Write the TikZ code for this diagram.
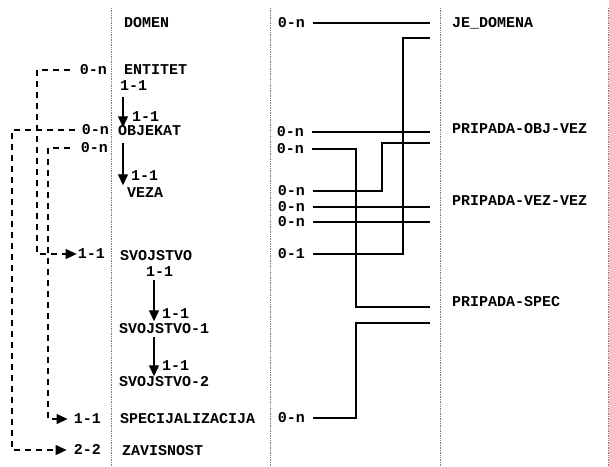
\documentclass[tikz,border=0pt]{standalone}
\usepackage{fontspec}
\setmonofont{Liberation Mono}
\usetikzlibrary{arrows.meta}
\begin{document}
\begin{tikzpicture}[x=1pt,y=-1pt,
  lbl/.style={anchor=west,inner sep=0pt,text height=9pt,text depth=0pt,
    font=\ttfamily\bfseries\fontsize{15}{15}\selectfont},
  lbr/.style={lbl,anchor=east},
  sep/.style={gray,densely dotted,line width=0.7pt},
  rel/.style={line width=1.2pt},
  dep/.style={line width=1.2pt,dash pattern=on 6pt off 5pt},
  tip/.style={-{Triangle[width=10pt,length=11pt]}}]
\useasboundingbox (0,0) rectangle (609,466);
\foreach \x in {111,270,440,608} \draw[sep] (\x,8) -- (\x,466);

\node[lbl] (domen) at (124,23) {DOMEN};
\node[lbl] (ent) at (124,70) {ENTITET};
\node[lbl] (ent11) at (120,86) {1-1};
\node[lbl] (obj11) at (132,117) {1-1};
\node[lbl] (obj) at (118,131) {OBJEKAT};
\node[lbl] (vez11) at (131,176) {1-1};
\node[lbl] (vez) at (127,193) {VEZA};
\node[lbl] (sv) at (120,256) {SVOJSTVO};
\node[lbl] (sv11) at (146,272) {1-1};
\node[lbl] (sva11) at (162,314) {1-1};
\node[lbl] (sva) at (119,329) {SVOJSTVO-1};
\node[lbl] (svb11) at (162,366) {1-1};
\node[lbl] (svb) at (119,382) {SVOJSTVO-2};
\node[lbl] (spec) at (120,419) {SPECIJALIZACIJA};
\node[lbl] (zav) at (122,451) {ZAVISNOST};

\node[lbr] (ent0n) at (107,70) {0-n};
\node[lbr] (obj0n) at (109,130) {0-n};
\node[lbr] (obj0nb) at (108,148) {0-n};
\node[lbr] (sv11l) at (105,254) {1-1};
\node[lbr] (spec11) at (101,419) {1-1};
\node[lbr] (zav22) at (101,450) {2-2};

\node[lbr] (je0n) at (305,23) {0-n};
\node[lbr] (pov0n) at (304,132) {0-n};
\node[lbr] (pov0nb) at (304,149) {0-n};
\node[lbr] (ppv0n) at (305,191) {0-n};
\node[lbr] (ppv0nb) at (305,207) {0-n};
\node[lbr] (ppv0nc) at (305,222) {0-n};
\node[lbr] (psv01) at (305,254) {0-1};
\node[lbr] (pse0n) at (305,418) {0-n};

\node[lbl] (je) at (452,23) {JE\_DOMENA};
\node[lbl] (pov) at (452,129) {PRIPADA-OBJ-VEZ};
\node[lbl] (ppv) at (452,201) {PRIPADA-VEZ-VEZ};
\node[lbl] (pse) at (452,302) {PRIPADA-SPEC};

\coordinate (k1) at (37,70);
\coordinate (k2) at (12,130);
\coordinate (k3) at (48,148);
\coordinate (m1) at (356,0);
\coordinate (m2) at (382,0);
\coordinate (m3) at (403,0);
\coordinate (e1) at (430,23);
\coordinate (e2) at (430,38);
\coordinate (e3) at (430,132);
\coordinate (e4) at (430,143);
\coordinate (e5) at (430,207);
\coordinate (e6) at (430,222);
\coordinate (e7) at (430,307);
\coordinate (e8) at (430,323);

\draw[rel,tip,shorten <=6pt,shorten >=-1pt] ([xshift=3pt]ent11.south west) -- ([xshift=3pt]ent11.south west |- obj.north);
\draw[rel,tip,shorten <=7pt,shorten >=3pt] ([xshift=5pt]obj.south west) -- ([xshift=5pt]obj.south west |- vez.north);
\draw[rel,tip,shorten <=3pt,shorten >=3pt] ([xshift=8pt]sv11.south west) -- ([xshift=8pt]sv11.south west |- sva.north);
\draw[rel,tip,shorten <=3pt,shorten >=1pt] ([xshift=8pt]sv11.south west |- sva.south) -- ([xshift=8pt]sv11.south west |- svb.north);

\draw[dep,tip,shorten <=10pt,shorten >=1pt] (ent0n.west) -- (k1) |- (sv11l.west);
\draw[dep,tip,shorten <=7pt,shorten >=7pt] (obj0n.west) -- (k2) |- (zav22.west);
\draw[dep,tip,shorten <=11pt,shorten >=6pt] (obj0nb.west) -- (k3) |- (spec11.west);

\draw[rel,shorten <=8pt] (je0n.east) -- (e1);
\draw[rel,shorten <=8pt] (pov0n.east) -- (e3);
\draw[rel,shorten <=8pt] (pov0nb.east) -| (m1 |- e7) -- (e7);
\draw[rel,shorten <=8pt] (ppv0n.east) -| (m2 |- e4) -- (e4);
\draw[rel,shorten <=8pt] (ppv0nb.east) -- (e5);
\draw[rel,shorten <=8pt] (ppv0nc.east) -- (e6);
\draw[rel,shorten <=8pt] (psv01.east) -| (m3 |- e2) -- (e2);
\draw[rel,shorten <=8pt] (pse0n.east) -| (m1 |- e8) -- (e8);
\end{tikzpicture}
\end{document}
